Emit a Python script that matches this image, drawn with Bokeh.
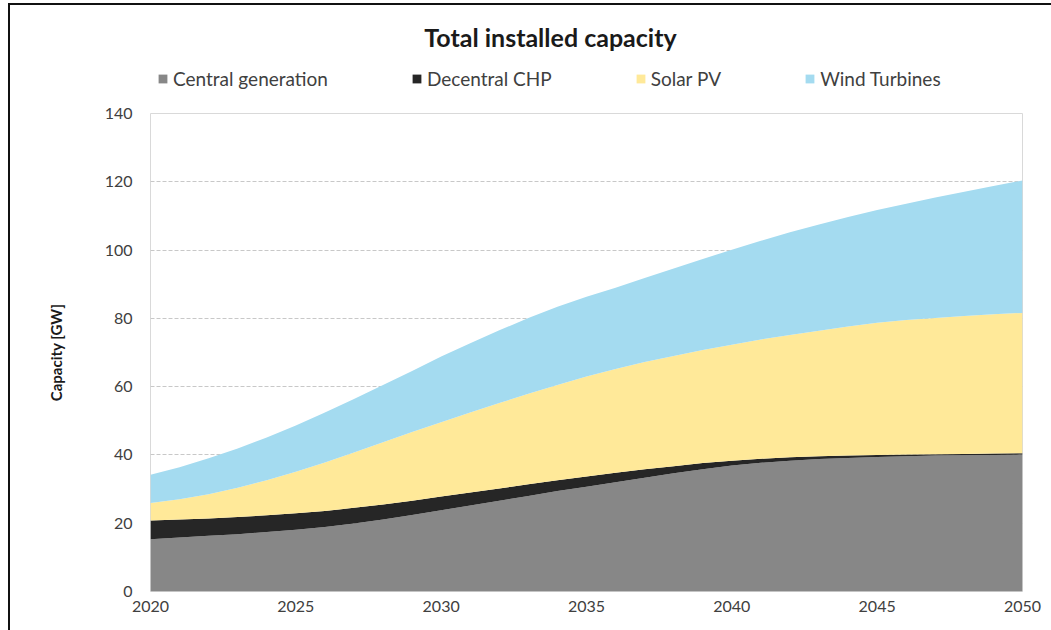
from bokeh.plotting import figure
from bokeh.layouts import column
from bokeh.models import (ColumnDataSource, Range1d, FixedTicker, Legend, LegendItem,
                          Label, InlineStyleSheet)
from bokeh.embed import file_html
from bokeh.resources import INLINE

# ---- data (GW) ----
years = list(range(2020, 2051))
central = [15.3, 15.8, 16.3, 16.8, 17.4, 18.1, 18.9, 19.9, 21.1, 22.4,
           23.8, 25.2, 26.6, 28.0, 29.4, 30.7, 32.0, 33.3, 34.6, 35.8,
           36.9, 37.7, 38.3, 38.8, 39.1, 39.4, 39.6, 39.8, 39.9, 40.0, 40.1]
chp = [5.5, 5.3, 5.1, 5.0, 4.9, 4.8, 4.7, 4.6, 4.4, 4.2,
       4.0, 3.8, 3.6, 3.4, 3.2, 3.0, 2.8, 2.5, 2.1, 1.8,
       1.4, 1.2, 1.0, 0.8, 0.7, 0.6, 0.5, 0.4, 0.4, 0.4, 0.4]
solar = [5.1, 5.9, 7.1, 8.6, 10.3, 12.2, 14.2, 16.2, 18.2, 20.1,
         21.8, 23.4, 25.0, 26.5, 27.9, 29.3, 30.4, 31.4, 32.3, 33.1,
         34.0, 34.9, 35.8, 36.8, 37.8, 38.7, 39.4, 39.9, 40.4, 40.8, 41.1]
wind = [8.3, 9.4, 10.5, 11.5, 12.5, 13.5, 14.6, 15.7, 16.8, 17.9,
        19.2, 20.3, 21.3, 22.2, 22.9, 23.3, 23.8, 24.6, 25.6, 26.7,
        27.8, 28.9, 30.1, 31.1, 32.1, 33.0, 34.1, 35.3, 36.4, 37.6, 38.8]

series_names = ["Central generation", "Decentral CHP", "Solar PV", "Wind Turbines"]
series_keys = ["central", "chp", "solar", "wind"]
colors = ["#878787", "#262626", "#FFE999", "#A4DBF0"]

x_ticks = [2020, 2025, 2030, 2035, 2040, 2045, 2050]
y_ticks = [0, 20, 40, 60, 80, 100, 120, 140]

title_text = "Total installed capacity"
y_label = "Capacity [GW]"

FONT = "Lato"
W = 1051
TOP_H = 101          # header height
MAIN_TOP = 12        # space above the chart frame inside the main figure
MAIN_H = 630 - TOP_H
LEFT = 150
RIGHT = 29

src = ColumnDataSource(dict(year=years, central=central, chp=chp, solar=solar, wind=wind))

# ---------------- main chart ----------------
p = figure(width=W, height=MAIN_H, output_backend="svg", toolbar_location=None,
           x_range=Range1d(2020, 2050), y_range=Range1d(0, 140))
p.min_border_left = LEFT
p.min_border_right = RIGHT
p.min_border_top = MAIN_TOP
p.min_border_bottom = 39
p.background_fill_color = "white"
p.border_fill_color = None
p.outline_line_color = "#D9D9D9"
p.outline_line_width = 1

p.varea_stack(stackers=series_keys, x="year", color=colors, source=src)

p.xaxis.ticker = FixedTicker(ticks=x_ticks)
p.yaxis.ticker = FixedTicker(ticks=y_ticks)
for ax in (p.xaxis[0], p.yaxis[0]):
    ax.axis_line_color = None
    ax.major_tick_line_color = None
    ax.minor_tick_line_color = None
    ax.major_tick_out = 0
    ax.major_tick_in = 0
    ax.major_label_text_font = FONT
    ax.major_label_text_font_size = "16px"
    ax.major_label_text_color = "#404040"
p.xaxis.major_label_standoff = 9
p.yaxis.major_label_standoff = 18
p.yaxis.axis_label = y_label
p.yaxis.axis_label_text_font = FONT
p.yaxis.axis_label_text_font_size = "15px"
p.yaxis.axis_label_text_font_style = "bold"
p.yaxis.axis_label_text_color = "#1A1A1A"
p.yaxis.axis_label_standoff = 37

p.xgrid.grid_line_color = None
p.ygrid.ticker = FixedTicker(ticks=[20, 40, 60, 80, 100, 120])
p.ygrid.grid_line_color = "#C8C8C8"
p.ygrid.grid_line_dash = "4 2"
p.ygrid.grid_line_width = 1

# ---------------- header: title + legend ----------------
# frame aligned with the chart frame; data units = page pixels
h = figure(width=W, height=TOP_H, output_backend="svg", toolbar_location=None,
           x_range=Range1d(LEFT, W - RIGHT), y_range=Range1d(TOP_H, 0),
           x_axis_location=None, y_axis_location=None)
h.min_border_left = LEFT
h.min_border_right = RIGHT
h.min_border_top = 0
h.min_border_bottom = 0
h.outline_line_color = None
h.grid.visible = False
h.border_fill_color = None
h.background_fill_color = None

h.add_layout(Label(x=550, y=36.5, text=title_text, text_align="center",
                   text_baseline="middle", text_font=FONT, text_font_size="25px",
                   text_font_style="bold", text_color="#1A1A1A"))

# legend swatches come from the same stacked series (they fall outside this header's view)
swatches = h.varea_stack(stackers=series_keys, x="year", color=colors, source=src)
items = [LegendItem(label=n, renderers=[r]) for n, r in zip(series_names, swatches)]
legend = Legend(items=items, orientation="horizontal", location=(7, TOP_H - 90),
                glyph_width=11, glyph_height=11, label_standoff=5, spacing=83,
                padding=0, margin=0, border_line_color=None, background_fill_alpha=0,
                label_text_font=FONT, label_text_font_size="19px",
                label_text_color="#404040", label_height=20)
h.add_layout(legend, "center")

layout = column(h, p, spacing=0)
layout.stylesheets = [InlineStyleSheet(css="""
:host { position: relative; }
:host::after {
  content: "";
  position: absolute;
  left: 8px; top: 3px;
  width: calc(100% - 8px); height: calc(100% - 3px);
  border-top: 2px solid #111;
  border-left: 2px solid #111;
  box-sizing: border-box;
  pointer-events: none;
}
""")]

open("out.html", "w").write(file_html(layout, INLINE))
